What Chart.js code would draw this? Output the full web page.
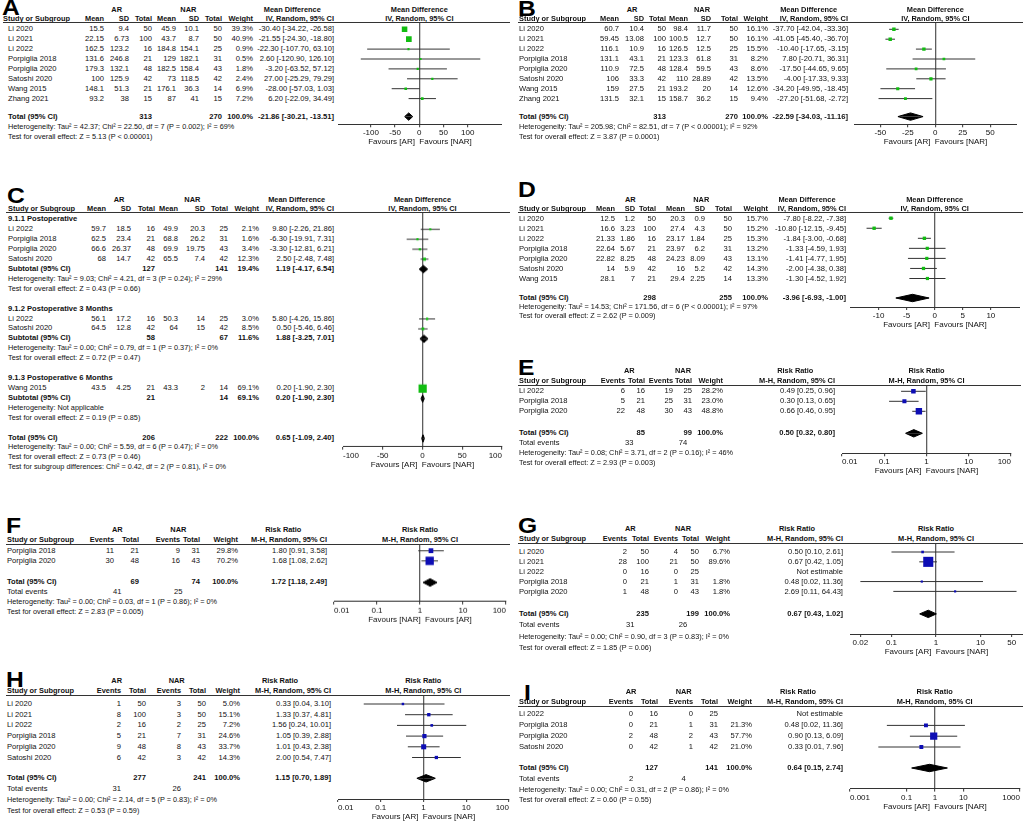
<!DOCTYPE html>
<html lang="en">
<head>
<meta charset="UTF-8">
<title>Forest plots - AR vs NAR</title>
<script src="https://cdn.jsdelivr.net/npm/chart.js@4.4.1/dist/chart.umd.min.js"></script>
<style>
  html, body { margin: 0; padding: 0; background: #fff; }
  body {
    width: 1026px; height: 824px; position: relative; overflow: hidden;
    font-family: 'Liberation Sans', Arial, sans-serif; color: #111;
  }
  .t { position: absolute; white-space: nowrap; font-size: 7.6px; line-height: 10px; height: 10px; }
  .b { font-weight: bold; }
  .h { font-weight: bold; font-size: 7.4px; }
  .s { font-size: 7.3px; }
  .rule { position: absolute; height: 1px; background: #333; z-index: 2; }
  .letter { position: absolute; font-size: 22px; font-weight: bold; line-height: 22px; color: #000;
            transform: scaleX(1.12); transform-origin: left top; }
  .plot { position: absolute; }
</style>
</head>
<body>
<script>
  // ---------- A: mean difference ----------
  const aStudies = ["Li 2020", "Li 2021", "Li 2022", "Porpiglia 2018", "Porpiglia 2020", "Satoshi 2020", "Wang 2015", "Zhang 2021"];
  const aArMean = [15.5, 22.15, 162.5, 131.6, 179.3, 100, 148.1, 93.2];
  const aArSd = [9.4, 6.73, 123.2, 246.8, 132.1, 125.9, 51.3, 38];
  const aArN = [50, 100, 16, 21, 48, 42, 21, 15];
  const aNarMean = [45.9, 43.7, 184.8, 129, 182.5, 73, 176.1, 87];
  const aNarSd = [10.1, 8.7, 154.1, 182.1, 158.4, 118.5, 36.3, 41];
  const aNarN = [50, 50, 25, 31, 43, 42, 14, 15];
  const aWeight = [39.3, 40.9, 0.9, 0.5, 1.8, 2.4, 6.9, 7.2];
  const aMd = [-30.40, -21.55, -22.30, 2.60, -3.20, 27.00, -28.00, 6.20];
  const aLo = [-34.22, -24.30, -107.70, -120.90, -63.52, -25.29, -57.03, -22.09];
  const aHi = [-26.58, -18.80, 63.10, 126.10, 57.12, 79.29, 1.03, 34.49];
  const aTotalN = [313, 270];
  const aPooled = [-21.86, -30.21, -13.51];
  const aHet = "Heterogeneity: Tau² = 42.37; Chi² = 22.50, df = 7 (P = 0.002); I² = 69%";
  const aTest = "Test for overall effect: Z = 5.13 (P < 0.00001)";
  const aTicks = [-100, -50, 0, 50, 100];
  const aTickLabels = ["-100", "-50", "0", "50", "100"];

  // ---------- B: mean difference ----------
  const bStudies = ["Li 2020", "Li 2021", "Li 2022", "Porpiglia 2018", "Porpiglia 2020", "Satoshi 2020", "Wang 2015", "Zhang 2021"];
  const bArMean = [60.7, 59.45, 116.1, 131.1, 110.9, 106, 159, 131.5];
  const bArSd = [10.4, 13.08, 10.9, 43.1, 72.5, 33.3, 27.5, 32.1];
  const bArN = [50, 100, 16, 21, 48, 42, 21, 15];
  const bNarMean = [98.4, 100.5, 126.5, 123.3, 128.4, 110, 193.2, 158.7];
  const bNarSd = [11.7, 12.7, 12.5, 61.8, 59.5, 28.89, 20, 36.2];
  const bNarN = [50, 50, 25, 31, 43, 42, 14, 15];
  const bWeight = [16.1, 16.1, 15.5, 8.2, 8.6, 13.5, 12.6, 9.4];
  const bMd = [-37.70, -41.05, -10.40, 7.80, -17.50, -4.00, -34.20, -27.20];
  const bLo = [-42.04, -45.40, -17.65, -20.71, -44.65, -17.33, -49.95, -51.68];
  const bHi = [-33.36, -36.70, -3.15, 36.31, 9.65, 9.33, -18.45, -2.72];
  const bTotalN = [313, 270];
  const bPooled = [-22.59, -34.03, -11.16];
  const bHet = "Heterogeneity: Tau² = 205.98; Chi² = 82.51, df = 7 (P < 0.00001); I² = 92%";
  const bTest = "Test for overall effect: Z = 3.87 (P = 0.0001)";
  const bTicks = [-50, -25, 0, 25, 50];
  const bTickLabels = ["-50", "-25", "0", "25", "50"];

  // ---------- C: mean difference with subgroups ----------
  const cGroups = ["9.1.1 Postoperative", "9.1.2 Postoperative 3 Months", "9.1.3 Postoperative 6 Months"];
  const cGroupOf = [0, 0, 0, 0, 1, 1, 2];
  const cStudies = ["Li 2022", "Porpiglia 2018", "Porpiglia 2020", "Satoshi 2020", "Li 2022", "Satoshi 2020", "Wang 2015"];
  const cArMean = [59.7, 62.5, 66.6, 68, 56.1, 64.5, 43.5];
  const cArSd = [18.5, 23.4, 26.37, 14.7, 17.2, 12.8, 4.25];
  const cArN = [16, 21, 48, 42, 16, 42, 21];
  const cNarMean = [49.9, 68.8, 69.9, 65.5, 50.3, 64, 43.3];
  const cNarSd = [20.3, 26.2, 19.75, 7.4, 14, 15, 2];
  const cNarN = [25, 31, 43, 42, 25, 42, 14];
  const cWeight = [2.1, 1.6, 3.4, 12.3, 3.0, 8.5, 69.1];
  const cMd = [9.80, -6.30, -3.30, 2.50, 5.80, 0.50, 0.20];
  const cLo = [-2.26, -19.91, -12.81, -2.48, -4.26, -5.46, -1.90];
  const cHi = [21.86, 7.31, 6.21, 7.48, 15.86, 6.46, 2.30];
  const cSubArN = [127, 58, 21];
  const cSubNarN = [141, 67, 14];
  const cSubWeight = [19.4, 11.6, 69.1];
  const cSubMd = [1.19, 1.88, 0.20];
  const cSubLo = [-4.17, -3.25, -1.90];
  const cSubHi = [6.54, 7.01, 2.30];
  const cSubHet = [
    "Heterogeneity: Tau² = 9.03; Chi² = 4.21, df = 3 (P = 0.24); I² = 29%",
    "Heterogeneity: Tau² = 0.00; Chi² = 0.79, df = 1 (P = 0.37); I² = 0%",
    "Heterogeneity: Not applicable"
  ];
  const cSubTest = [
    "Test for overall effect: Z = 0.43 (P = 0.66)",
    "Test for overall effect: Z = 0.72 (P = 0.47)",
    "Test for overall effect: Z = 0.19 (P = 0.85)"
  ];
  const cTotalN = [206, 222];
  const cPooled = [0.65, -1.09, 2.40];
  const cHet = "Heterogeneity: Tau² = 0.00; Chi² = 5.59, df = 6 (P = 0.47); I² = 0%";
  const cTest = "Test for overall effect: Z = 0.73 (P = 0.46)";
  const cSubDiff = "Test for subgroup differences: Chi² = 0.42, df = 2 (P = 0.81), I² = 0%";
  const cTicks = [-100, -50, 0, 50, 100];
  const cTickLabels = ["-100", "-50", "0", "50", "100"];

  // ---------- D: mean difference ----------
  const dStudies = ["Li 2020", "Li 2021", "Li 2022", "Porpiglia 2018", "Porpiglia 2020", "Satoshi 2020", "Wang 2015"];
  const dArMean = [12.5, 16.6, 21.33, 22.64, 22.82, 14, 28.1];
  const dArSd = [1.2, 3.23, 1.86, 5.67, 8.25, 5.9, 7];
  const dArN = [50, 100, 16, 21, 48, 42, 21];
  const dNarMean = [20.3, 27.4, 23.17, 23.97, 24.23, 16, 29.4];
  const dNarSd = [0.9, 4.3, 1.84, 6.2, 8.09, 5.2, 2.25];
  const dNarN = [50, 50, 25, 31, 43, 42, 14];
  const dWeight = [15.7, 15.2, 15.3, 13.2, 13.1, 14.3, 13.3];
  const dMd = [-7.80, -10.80, -1.84, -1.33, -1.41, -2.00, -1.30];
  const dLo = [-8.22, -12.15, -3.00, -4.59, -4.77, -4.38, -4.52];
  const dHi = [-7.38, -9.45, -0.68, 1.93, 1.95, 0.38, 1.92];
  const dTotalN = [298, 255];
  const dPooled = [-3.96, -6.93, -1.00];
  const dHet = "Heterogeneity: Tau² = 14.53; Chi² = 171.56, df = 6 (P < 0.00001); I² = 97%";
  const dTest = "Test for overall effect: Z = 2.62 (P = 0.009)";
  const dTicks = [-10, -5, 0, 5, 10];
  const dTickLabels = ["-10", "-5", "0", "5", "10"];

  // ---------- E: risk ratio ----------
  const eStudies = ["Li 2022", "Porpiglia 2018", "Porpiglia 2020"];
  const eArEvents = [6, 5, 22];
  const eArN = [16, 21, 48];
  const eNarEvents = [19, 25, 30];
  const eNarN = [25, 31, 43];
  const eWeight = [28.2, 23.0, 48.8];
  const eRr = [0.49, 0.30, 0.66];
  const eLo = [0.25, 0.13, 0.46];
  const eHi = [0.96, 0.65, 0.95];
  const eTotalN = [85, 99];
  const ePooled = [0.50, 0.32, 0.80];
  const eEvents = [33, 74];
  const eHet = "Heterogeneity: Tau² = 0.08; Chi² = 3.71, df = 2 (P = 0.16); I² = 46%";
  const eTest = "Test for overall effect: Z = 2.93 (P = 0.003)";
  const eTicks = [0.01, 0.1, 1, 10, 100];
  const eTickLabels = ["0.01", "0.1", "1", "10", "100"];

  // ---------- F: risk ratio ----------
  const fStudies = ["Porpiglia 2018", "Porpiglia 2020"];
  const fArEvents = [11, 30];
  const fArN = [21, 48];
  const fNarEvents = [9, 16];
  const fNarN = [31, 43];
  const fWeight = [29.8, 70.2];
  const fRr = [1.80, 1.68];
  const fLo = [0.91, 1.08];
  const fHi = [3.58, 2.62];
  const fTotalN = [69, 74];
  const fPooled = [1.72, 1.18, 2.49];
  const fEvents = [41, 25];
  const fHet = "Heterogeneity: Tau² = 0.00; Chi² = 0.03, df = 1 (P = 0.86); I² = 0%";
  const fTest = "Test for overall effect: Z = 2.83 (P = 0.005)";
  const fTicks = [0.01, 0.1, 1, 10, 100];
  const fTickLabels = ["0.01", "0.1", "1", "10", "100"];

  // ---------- G: risk ratio ----------
  const gStudies = ["Li 2020", "Li 2021", "Li 2022", "Porpiglia 2018", "Porpiglia 2020"];
  const gArEvents = [2, 28, 0, 0, 1];
  const gArN = [50, 100, 16, 21, 48];
  const gNarEvents = [4, 21, 0, 1, 0];
  const gNarN = [50, 50, 25, 31, 43];
  const gWeight = [6.7, 89.6, null, 1.8, 1.8];
  const gRr = [0.50, 0.67, null, 0.48, 2.69];
  const gLo = [0.10, 0.42, null, 0.02, 0.11];
  const gHi = [2.61, 1.05, null, 11.36, 64.43];
  const gTotalN = [235, 199];
  const gPooled = [0.67, 0.43, 1.02];
  const gEvents = [31, 26];
  const gHet = "Heterogeneity: Tau² = 0.00; Chi² = 0.90, df = 3 (P = 0.83); I² = 0%";
  const gTest = "Test for overall effect: Z = 1.85 (P = 0.06)";
  const gTicks = [0.02, 0.1, 1, 10, 50];
  const gTickLabels = ["0.02", "0.1", "1", "10", "50"];

  // ---------- H: risk ratio ----------
  const hStudies = ["Li 2020", "Li 2021", "Li 2022", "Porpiglia 2018", "Porpiglia 2020", "Satoshi 2020"];
  const hArEvents = [1, 8, 2, 5, 9, 6];
  const hArN = [50, 100, 16, 21, 48, 42];
  const hNarEvents = [3, 3, 2, 7, 8, 3];
  const hNarN = [50, 50, 25, 31, 43, 42];
  const hWeight = [5.0, 15.1, 7.2, 24.6, 33.7, 14.3];
  const hRr = [0.33, 1.33, 1.56, 1.05, 1.01, 2.00];
  const hLo = [0.04, 0.37, 0.24, 0.39, 0.43, 0.54];
  const hHi = [3.10, 4.81, 10.01, 2.88, 2.38, 7.47];
  const hTotalN = [277, 241];
  const hPooled = [1.15, 0.70, 1.89];
  const hEvents = [31, 26];
  const hHet = "Heterogeneity: Tau² = 0.00; Chi² = 2.14, df = 5 (P = 0.83); I² = 0%";
  const hTest = "Test for overall effect: Z = 0.53 (P = 0.59)";
  const hTicks = [0.01, 0.1, 1, 10, 100];
  const hTickLabels = ["0.01", "0.1", "1", "10", "100"];

  // ---------- I: risk ratio ----------
  const iStudies = ["Li 2022", "Porpiglia 2018", "Porpiglia 2020", "Satoshi 2020"];
  const iArEvents = [0, 0, 2, 0];
  const iArN = [16, 21, 48, 42];
  const iNarEvents = [0, 1, 2, 1];
  const iNarN = [25, 31, 43, 42];
  const iWeight = [null, 21.3, 57.7, 21.0];
  const iRr = [null, 0.48, 0.90, 0.33];
  const iLo = [null, 0.02, 0.13, 0.01];
  const iHi = [null, 11.36, 6.09, 7.96];
  const iTotalN = [127, 141];
  const iPooled = [0.64, 0.15, 2.74];
  const iEvents = [2, 4];
  const iHet = "Heterogeneity: Tau² = 0.00; Chi² = 0.31, df = 2 (P = 0.86); I² = 0%";
  const iTest = "Test for overall effect: Z = 0.60 (P = 0.55)";
  const iTicks = [0.001, 0.1, 1, 10, 1000];
  const iTickLabels = ["0.001", "0.1", "1", "10", "1000"];

  const favAR = "Favours [AR]  Favours [NAR]";
  const favNAR = "Favours [NAR]  Favours [AR]";

  // ---------- layout (page pixels) ----------
  const layA = { ox: 0, hx: 3, sx: 8, letter: "A", lx: 2, capTop: 0, rule: [3, 510], L: 22, first: 29.3, rowH: 9.9, gapT: 18, rowH2: 10,
    cols: [104, 129, 152, 176, 199, 222, 253, 334], arC: 116.7, narC: 188.3, effC: 292.3, plotC: 419.3,
    plot: { x0: 338, x1: 502, axisY: 124.3, min: -168, max: 171, log: false, inner: false } };
  const layB = { ox: 512, hx: 7, sx: 7, letter: "B", lx: 518, capTop: 1, rule: [518, 1023], L: 22, first: 29.3, rowH: 9.9, gapT: 18, rowH2: 10,
    cols: [107, 132, 154, 176, 199, 226, 256, 336], arC: 120, narC: 190, effC: 296.7, plotC: 935.3,
    plot: { x0: 854, x1: 1017, axisY: 124.3, min: -74, max: 74.3, log: false, inner: false } };
  const layC = { ox: 0, hx: 8, sx: 8, letter: "C", lx: 7, capTop: 188.3, rule: [6, 510], L: 212, first: 219.3, rowH: 9.92,
    cols: [106, 131, 155, 178, 205, 228, 259, 334], arC: 119, narC: 192.3, effC: 296.7, plotC: 422.5,
    plot: { x0: 342, x1: 503, axisY: 445.7, min: -100, max: 100, log: false, inner: true } };
  const layD = { ox: 512, hx: 7, sx: 7, letter: "D", lx: 518, capTop: 181.7, rule: [518, 1023], L: 212.3, first: 218.5, rowH: 10.05, gapT: 19.5, rowH2: 9,
    cols: [103, 123, 144, 173, 193, 220, 256, 334], arC: 118.3, narC: 189.3, effC: 295, plotC: 934.7,
    plot: { x0: 850, x1: 1020, axisY: 307.3, min: -15.1, max: 15.2, log: false, inner: false } };
  const layE = { ox: 512, hx: 7, sx: 7, letter: "E", lx: 518, capTop: 360, rule: [518, 1021], L: 385, first: 391.3, rowH: 10, gapT: 22, rowH2: 10,
    cols: [113, 133, 161, 180, 211, 323], arC: 117.3, narC: 171, effC: 283.3, plotC: 926.5,
    plot: { x0: 841, x1: 1012, axisY: 453.3, min: 0.01, max: 100, log: true, inner: true } };
  const layF = { ox: 0, hx: 7, sx: 7, letter: "F", lx: 6, capTop: 518.3, rule: [6, 510], L: 544.3, first: 551, rowH: 10, gapT: 21.3, rowH2: 10,
    cols: [114, 139, 180, 200, 238, 327], arC: 117.3, narC: 178.3, effC: 283.3, plotC: 420,
    plot: { x0: 333, x1: 507, axisY: 601, min: 0.01, max: 100, log: true, inner: true } };
  const layG = { ox: 512, hx: 7, sx: 7, letter: "G", lx: 518, capTop: 518.3, rule: [518, 1023], L: 543.3, first: 552.3, rowH: 9.85, gapT: 22.5, rowH2: 11.2,
    cols: [115, 137, 166, 187, 218, 331], arC: 118.3, narC: 171, effC: 285, plotC: 936,
    plot: { x0: 850, x1: 1023, axisY: 634.3, min: 0.0117, max: 90, log: true, inner: false } };
  const layH = { ox: 0, hx: 7, sx: 7, letter: "H", lx: 6, capTop: 671.7, rule: [6, 510], L: 695, first: 704, rowH: 10.7, gapT: 20.8, rowH2: 10.8,
    cols: [121, 146, 181, 206, 240, 331], arC: 116.7, narC: 176.7, effC: 280, plotC: 423.3,
    plot: { x0: 337, x1: 510, axisY: 799, min: 0.01, max: 100, log: true, inner: true } };
  const layI = { ox: 512, hx: 7, sx: 7, letter: "I", lx: 524, capTop: 685, rule: [518, 1023], L: 706.7, first: 714.3, rowH: 10.8, gapT: 21, rowH2: 10.9,
    cols: [121, 146, 181, 206, 240, 331], arC: 119, narC: 171.7, effC: 286, plotC: 934.7,
    plot: { x0: 849, x1: 1021, axisY: 788.3, min: 0.001, max: 1000, log: true, inner: true } };

  const AXIS_H = 26;
  const DIAMOND_H = 3.7;
  const GREEN = "#12bd12";
  const BLUE = "#0d0db4";
  const CI_COLOR = "#333333";

  Chart.defaults.font.family = "'Liberation Sans', Arial, sans-serif";

  // ---------- helpers ----------
  function put(x, y, text, align, cls) {
    const el = document.createElement("div");
    el.className = "t" + (cls ? " " + cls : "");
    el.textContent = text;
    el.style.top = (y - 5) + "px";
    if (align === "r") {
      el.style.left = (x - 400) + "px"; el.style.width = "400px"; el.style.textAlign = "right";
    } else if (align === "c") {
      el.style.left = (x - 200) + "px"; el.style.width = "400px"; el.style.textAlign = "center";
    } else {
      el.style.left = x + "px";
    }
    document.body.appendChild(el);
  }

  function rule(lay) {
    const el = document.createElement("div");
    el.className = "rule";
    el.style.left = lay.rule[0] + "px";
    el.style.width = (lay.rule[1] - lay.rule[0]) + "px";
    el.style.top = (lay.L - 0.5) + "px";
    document.body.appendChild(el);
  }

  function letter(lay) {
    const el = document.createElement("div");
    el.className = "letter";
    el.textContent = lay.letter;
    el.style.left = lay.lx + "px";
    el.style.top = (lay.capTop - 2.9) + "px";
    document.body.appendChild(el);
  }

  const ci = (e, l, h) => e.toFixed(2) + " [" + l.toFixed(2) + ", " + h.toFixed(2) + "]";
  const squareSide = w => 2 + 0.09 * w;

  // forest plot drawn by Chart.js; y values are pixel offsets below the header rule
  function forest(lay, marks, diamonds, color, ticks, tickLabels, favours) {
    const p = lay.plot;
    const areaH = p.axisY - lay.L;
    const box = document.createElement("div");
    box.className = "plot";
    box.style.left = p.x0 + "px";
    box.style.top = lay.L + "px";
    box.style.width = (p.x1 - p.x0) + "px";
    box.style.height = (areaH + AXIS_H) + "px";
    const cv = document.createElement("canvas");
    box.appendChild(cv);
    document.body.appendChild(box);

    const zero = p.log ? 1 : 0;
    const shown = marks.filter(m => m.est !== null);
    const datasets = [{
      type: "scatter", order: 0,
      data: shown.map(m => ({ x: m.est, y: m.y - lay.L })),
      pointStyle: "rect",
      pointRadius: shown.map(m => squareSide(m.w) / Math.SQRT2),
      backgroundColor: color, borderWidth: 0
    }];
    shown.forEach(m => datasets.push({
      type: "line", order: 1,
      data: [{ x: m.lo, y: m.y - lay.L }, { x: m.hi, y: m.y - lay.L }],
      borderColor: CI_COLOR, borderWidth: 1, pointRadius: 0
    }));
    diamonds.forEach(dm => {
      const y = dm.y - lay.L;
      [-1, 1].forEach(s => datasets.push({
        type: "line", order: 1,
        data: [{ x: dm.lo, y: y }, { x: dm.est, y: y + s * DIAMOND_H }, { x: dm.hi, y: y }],
        borderColor: "#000", backgroundColor: "#000", borderWidth: 1, pointRadius: 0,
        fill: { value: y }
      }));
    });

    new Chart(cv, {
      type: "line",
      data: { datasets: datasets },
      options: {
        animation: false, responsive: true, maintainAspectRatio: false, events: [],
        layout: { padding: 0, autoPadding: false },
        plugins: { legend: { display: false }, tooltip: { enabled: false } },
        scales: {
          x: {
            type: p.log ? "logarithmic" : "linear",
            min: p.min, max: p.max, bounds: "data",
            afterBuildTicks: s => { s.ticks = ticks.map(v => ({ value: v })); },
            afterFit: s => { s.height = AXIS_H; },
            ticks: {
              callback: (v, i) => tickLabels[i],
              font: { size: 8 }, color: "#111", padding: 1,
              maxRotation: 0, autoSkip: false, align: p.inner ? "inner" : "center"
            },
            grid: {
              drawOnChartArea: true, lineWidth: 1.3,
              color: ctx => (ctx.tick && ctx.tick.value === zero) ? "#5e5e5e" : "rgba(0,0,0,0)",
              drawTicks: true, tickLength: 3, tickColor: "#333", tickWidth: 1
            },
            border: { display: true, color: "#333", width: 1 },
            title: { display: true, text: favours, font: { size: 8 }, color: "#111", padding: { top: 0, bottom: 3.4 } }
          },
          y: { type: "linear", min: 0, max: areaH, reverse: true, display: false }
        }
      }
    });
  }

  // ---------- mean difference panel ----------
  function mdHeader(lay) {
    const ox = lay.ox, c = lay.cols;
    letter(lay);
    rule(lay);
    const gy = lay.L - 12, cy = lay.L - 3.2;
    put(ox + lay.arC, gy, "AR", "c", "h");
    put(ox + lay.narC, gy, "NAR", "c", "h");
    put(ox + lay.effC, gy, "Mean Difference", "c", "h");
    put(lay.plotC, gy, "Mean Difference", "c", "h");
    put(ox + lay.hx, cy, "Study or Subgroup", "l", "h");
    ["Mean", "SD", "Total", "Mean", "SD", "Total", "Weight", "IV, Random, 95% CI"]
      .forEach((h, k) => put(ox + c[k], cy, h, "r", "h"));
    put(lay.plotC, cy, "IV, Random, 95% CI", "c", "h");
  }

  function mdRow(lay, y, name, vals, w, est, lo, hi, cls) {
    const ox = lay.ox, c = lay.cols;
    put(ox + lay.sx, y, name, "l", cls);
    vals.forEach((v, k) => { if (v !== null) put(ox + c[k], y, String(v), "r", cls); });
    put(ox + c[6], y, w.toFixed(1) + "%", "r", cls);
    put(ox + c[7], y, ci(est, lo, hi), "r", cls);
  }

  function mdPanel(lay, d) {
    mdHeader(lay);
    const marks = [];
    d.studies.forEach((s, i) => {
      const y = lay.first + i * lay.rowH;
      mdRow(lay, y, s, [d.arMean[i], d.arSd[i], d.arN[i], d.narMean[i], d.narSd[i], d.narN[i]], d.weight[i], d.est[i], d.lo[i], d.hi[i]);
      marks.push({ y: y, est: d.est[i], lo: d.lo[i], hi: d.hi[i], w: d.weight[i] });
    });
    const ty = lay.first + (d.studies.length - 1) * lay.rowH + lay.gapT;
    mdRow(lay, ty, "Total (95% CI)", [null, null, d.totalN[0], null, null, d.totalN[1]], 100, d.pooled[0], d.pooled[1], d.pooled[2], "b");
    put(lay.ox + lay.sx, ty + lay.rowH2, d.het, "l", "s");
    put(lay.ox + lay.sx, ty + 2 * lay.rowH2, d.test, "l", "s");
    forest(lay, marks, [{ y: ty, est: d.pooled[0], lo: d.pooled[1], hi: d.pooled[2] }], GREEN, d.ticks, d.tickLabels, favAR);
  }

  // ---------- risk ratio panel ----------
  function rrPanel(lay, d) {
    const ox = lay.ox, c = lay.cols;
    letter(lay);
    rule(lay);
    const gy = lay.L - 14.5, cy = lay.L - 4.3;
    put(ox + lay.arC, gy, "AR", "c", "h");
    put(ox + lay.narC, gy, "NAR", "c", "h");
    put(ox + lay.effC, gy, "Risk Ratio", "c", "h");
    put(lay.plotC, gy, "Risk Ratio", "c", "h");
    put(ox + lay.hx, cy, "Study or Subgroup", "l", "h");
    ["Events", "Total", "Events", "Total", "Weight", "M-H, Random, 95% CI"]
      .forEach((h, k) => put(ox + c[k], cy, h, "r", "h"));
    put(lay.plotC, cy, "M-H, Random, 95% CI", "c", "h");

    const marks = [];
    d.studies.forEach((s, i) => {
      const y = lay.first + i * lay.rowH;
      put(ox + lay.sx, y, s);
      [d.arEv[i], d.arN[i], d.narEv[i], d.narN[i]].forEach((v, k) => put(ox + c[k], y, String(v), "r"));
      if (d.weight[i] !== null) put(ox + c[4], y, d.weight[i].toFixed(1) + "%", "r");
      put(ox + c[5], y, d.est[i] === null ? "Not estimable" : ci(d.est[i], d.lo[i], d.hi[i]), "r");
      marks.push({ y: y, est: d.est[i], lo: d.lo[i], hi: d.hi[i], w: d.weight[i] });
    });
    const ty = lay.first + (d.studies.length - 1) * lay.rowH + lay.gapT;
    put(ox + lay.sx, ty, "Total (95% CI)", "l", "b");
    put(ox + c[1], ty, String(d.totalN[0]), "r", "b");
    put(ox + c[3], ty, String(d.totalN[1]), "r", "b");
    put(ox + c[4], ty, "100.0%", "r", "b");
    put(ox + c[5], ty, ci(d.pooled[0], d.pooled[1], d.pooled[2]), "r", "b");
    put(ox + lay.sx, ty + lay.rowH2, "Total events");
    put(ox + lay.arC, ty + lay.rowH2, String(d.events[0]), "c");
    put(ox + lay.narC, ty + lay.rowH2, String(d.events[1]), "c");
    put(ox + lay.sx, ty + 2 * lay.rowH2, d.het, "l", "s");
    put(ox + lay.sx, ty + 3 * lay.rowH2, d.test, "l", "s");
    forest(lay, marks, [{ y: ty, est: d.pooled[0], lo: d.pooled[1], hi: d.pooled[2] }], BLUE, d.ticks, d.tickLabels, d.favours);
  }

  // ---------- panel C with subgroups ----------
  function subgroupPanel(lay) {
    mdHeader(lay);
    const ox = lay.ox;
    const Y = n => lay.first + n * lay.rowH;
    const marks = [], diamonds = [];
    let line = 0;
    cGroups.forEach((g, gi) => {
      put(ox + lay.sx, Y(line++), g, "l", "b");
      cStudies.forEach((s, i) => {
        if (cGroupOf[i] !== gi) return;
        const y = Y(line++);
        mdRow(lay, y, s, [cArMean[i], cArSd[i], cArN[i], cNarMean[i], cNarSd[i], cNarN[i]], cWeight[i], cMd[i], cLo[i], cHi[i]);
        marks.push({ y: y, est: cMd[i], lo: cLo[i], hi: cHi[i], w: cWeight[i] });
      });
      const sy = Y(line++);
      mdRow(lay, sy, "Subtotal (95% CI)", [null, null, cSubArN[gi], null, null, cSubNarN[gi]], cSubWeight[gi], cSubMd[gi], cSubLo[gi], cSubHi[gi], "b");
      diamonds.push({ y: sy, est: cSubMd[gi], lo: cSubLo[gi], hi: cSubHi[gi] });
      put(ox + lay.sx, Y(line++), cSubHet[gi], "l", "s");
      put(ox + lay.sx, Y(line++), cSubTest[gi], "l", "s");
      line++;
    });
    const ty = Y(line++);
    mdRow(lay, ty, "Total (95% CI)", [null, null, cTotalN[0], null, null, cTotalN[1]], 100, cPooled[0], cPooled[1], cPooled[2], "b");
    diamonds.push({ y: ty, est: cPooled[0], lo: cPooled[1], hi: cPooled[2] });
    put(ox + lay.sx, Y(line++), cHet, "l", "s");
    put(ox + lay.sx, Y(line++), cTest, "l", "s");
    put(ox + lay.sx, Y(line++), cSubDiff, "l", "s");
    forest(lay, marks, diamonds, GREEN, cTicks, cTickLabels, favAR);
  }

  mdPanel(layA, { studies: aStudies, arMean: aArMean, arSd: aArSd, arN: aArN, narMean: aNarMean, narSd: aNarSd, narN: aNarN,
    weight: aWeight, est: aMd, lo: aLo, hi: aHi, totalN: aTotalN, pooled: aPooled, het: aHet, test: aTest, ticks: aTicks, tickLabels: aTickLabels });
  mdPanel(layB, { studies: bStudies, arMean: bArMean, arSd: bArSd, arN: bArN, narMean: bNarMean, narSd: bNarSd, narN: bNarN,
    weight: bWeight, est: bMd, lo: bLo, hi: bHi, totalN: bTotalN, pooled: bPooled, het: bHet, test: bTest, ticks: bTicks, tickLabels: bTickLabels });
  subgroupPanel(layC);
  mdPanel(layD, { studies: dStudies, arMean: dArMean, arSd: dArSd, arN: dArN, narMean: dNarMean, narSd: dNarSd, narN: dNarN,
    weight: dWeight, est: dMd, lo: dLo, hi: dHi, totalN: dTotalN, pooled: dPooled, het: dHet, test: dTest, ticks: dTicks, tickLabels: dTickLabels });

  rrPanel(layE, { studies: eStudies, arEv: eArEvents, arN: eArN, narEv: eNarEvents, narN: eNarN, weight: eWeight, est: eRr, lo: eLo, hi: eHi,
    totalN: eTotalN, pooled: ePooled, events: eEvents, het: eHet, test: eTest, ticks: eTicks, tickLabels: eTickLabels, favours: favAR });
  rrPanel(layF, { studies: fStudies, arEv: fArEvents, arN: fArN, narEv: fNarEvents, narN: fNarN, weight: fWeight, est: fRr, lo: fLo, hi: fHi,
    totalN: fTotalN, pooled: fPooled, events: fEvents, het: fHet, test: fTest, ticks: fTicks, tickLabels: fTickLabels, favours: favNAR });
  rrPanel(layG, { studies: gStudies, arEv: gArEvents, arN: gArN, narEv: gNarEvents, narN: gNarN, weight: gWeight, est: gRr, lo: gLo, hi: gHi,
    totalN: gTotalN, pooled: gPooled, events: gEvents, het: gHet, test: gTest, ticks: gTicks, tickLabels: gTickLabels, favours: favAR });
  rrPanel(layH, { studies: hStudies, arEv: hArEvents, arN: hArN, narEv: hNarEvents, narN: hNarN, weight: hWeight, est: hRr, lo: hLo, hi: hHi,
    totalN: hTotalN, pooled: hPooled, events: hEvents, het: hHet, test: hTest, ticks: hTicks, tickLabels: hTickLabels, favours: favAR });
  rrPanel(layI, { studies: iStudies, arEv: iArEvents, arN: iArN, narEv: iNarEvents, narN: iNarN, weight: iWeight, est: iRr, lo: iLo, hi: iHi,
    totalN: iTotalN, pooled: iPooled, events: iEvents, het: iHet, test: iTest, ticks: iTicks, tickLabels: iTickLabels, favours: favAR });
</script>
</body>
</html>
